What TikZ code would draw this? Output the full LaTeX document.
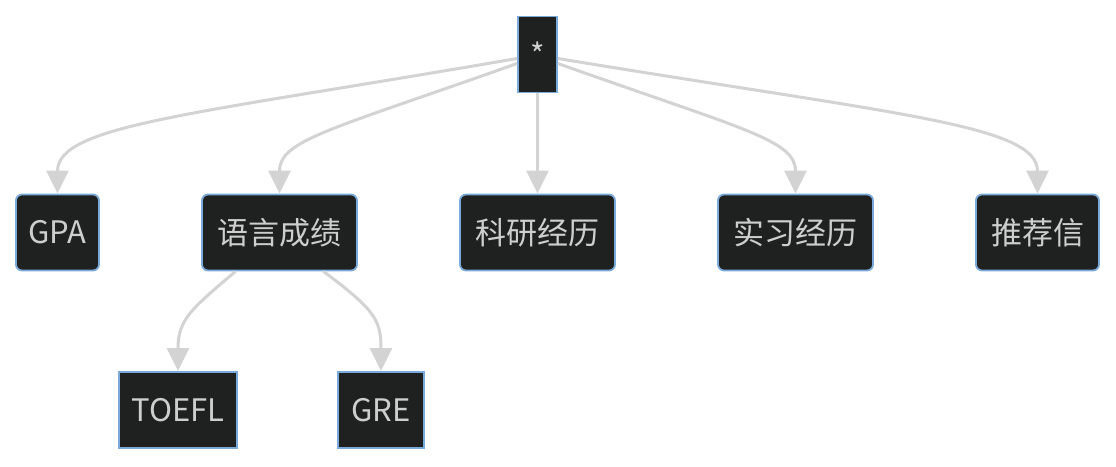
\documentclass[tikz,border=0pt]{standalone}
\usepackage{fontspec}
\setmainfont{Noto Sans CJK SC}
\usepackage{tikz}
\usetikzlibrary{arrows.meta, positioning}

\definecolor{boxfill}{RGB}{31,32,32}
\definecolor{boxline}{RGB}{122,170,218}
\definecolor{boxtext}{RGB}{206,206,206}
\definecolor{edgegray}{RGB}{211,211,211}

\tikzset{
  item/.style={draw=boxline, line width=1.8pt, fill=boxfill, text=boxtext,
    font=\fontsize{31}{37}\selectfont, inner xsep=0pt, inner ysep=0pt,
    minimum height=76pt},
  topic/.style={item, rounded corners=6pt},
  link/.style={draw=edgegray, line width=3pt,
    -{Triangle[length=23pt, width=22pt]}}
}

\begin{document}
\begin{tikzpicture}[x=1pt, y=-1pt]
    \useasboundingbox (0,0) rectangle (1116,466);

    % -------------------------------------------------------
    % 1. Nodes
    % -------------------------------------------------------
    \node[item, minimum width=39pt] (root) at (537.5,54.5) {*};

    \foreach \name/\xpos/\w/\txt in {gpa/57.5/83/GPA, lang/279.5/155/语言成绩,
        research/537.5/155/科研经历, intern/795.5/155/实习经历, letter/1037.5/123/推荐信} {
      \node[topic, minimum width=\w pt] (\name) at (\xpos,232.5) {\txt};
    }

    \node[item, minimum width=118pt] (toefl) at (178,410) {TOEFL};
    \node[item, minimum width=86pt] (gre) at (381,410) {GRE};

    % -------------------------------------------------------
    % 2. Connectors
    % -------------------------------------------------------
    \draw[link] ([yshift=-4pt]root.west) .. controls (190,115) and (57.5,125) .. (gpa.north);
    \draw[link] ([yshift=-9pt]root.west) .. controls (330,130) and (279.5,140) .. (lang.north);
    \draw[link] (root.south) -- (research.north);
    \draw[link] ([yshift=-9pt]root.east) .. controls (745,130) and (795.5,140) .. (intern.north);
    \draw[link] ([yshift=-4pt]root.east) .. controls (900,115) and (1037.5,125) .. (letter.north);

    % second level
    \draw[link] ([xshift=-44pt]lang.south) .. controls (190,310) and (178,320) .. (toefl.north);
    \draw[link] ([xshift=44pt]lang.south) .. controls (375,310) and (381,320) .. (gre.north);
\end{tikzpicture}
\end{document}
